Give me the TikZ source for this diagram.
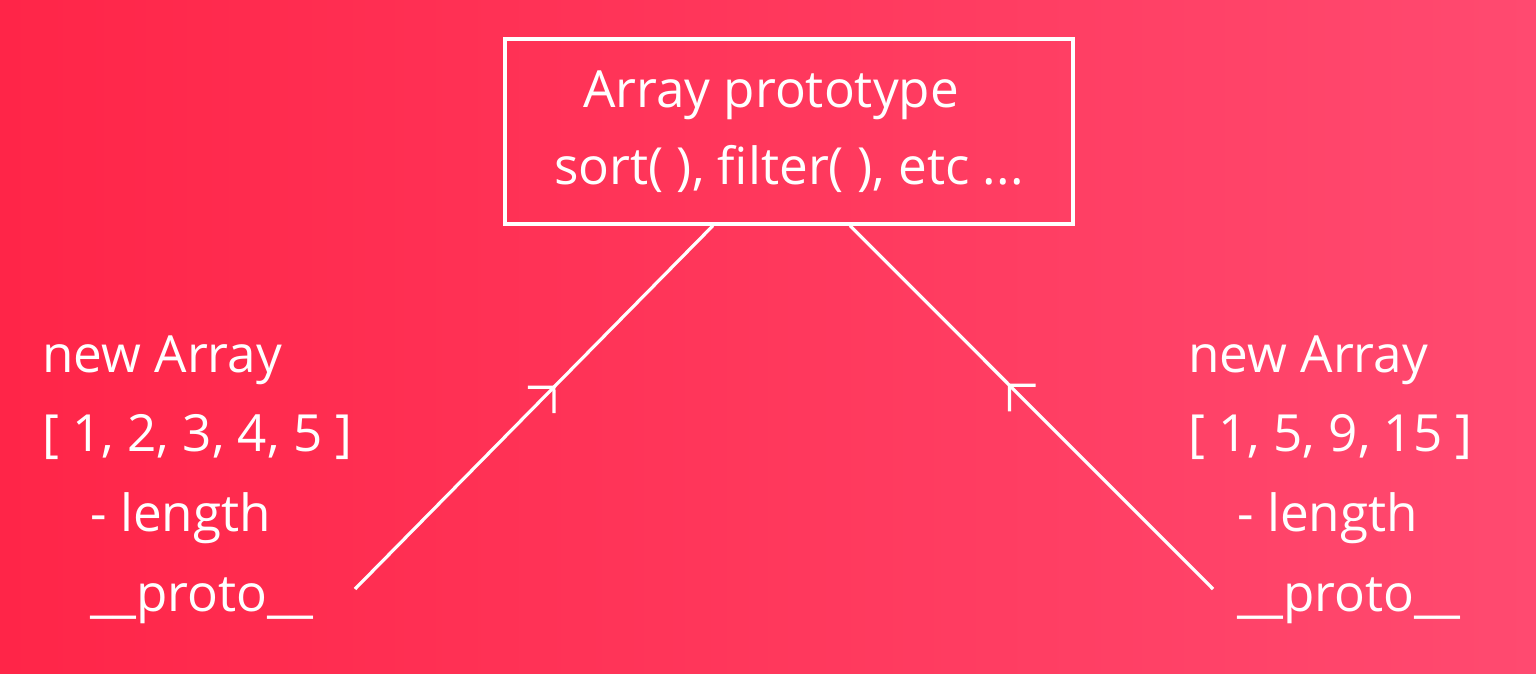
\documentclass[tikz,border=0pt]{standalone}
\usepackage{fontspec}
\setmainfont{Open Sans}
\usetikzlibrary{arrows.meta,positioning,calc,decorations.markings}
\definecolor{bgleft}{HTML}{FF2548}
\definecolor{bgright}{HTML}{FF4A70}
\newcommand{\slidefont}{\fontsize{25.6pt}{38.5pt}\selectfont}
\tikzstyle{txt} = [text=white, font=\slidefont, inner sep=0pt,
    text height=26pt, text depth=8pt]
\tikzstyle{protobox} = [rectangle, draw=white, line width=1.6pt, text=white,
    font=\slidefont, align=center, minimum width=284pt, minimum height=92.5pt]
\tikzstyle{link} = [draw=white, line width=1.6pt, postaction={decorate},
    decoration={markings, mark=at position #1 with
      {\arrow[line cap=round]{Straight Barb[angle=90:13pt]}}}]

\begin{document}
\begin{tikzpicture}[x=0.5pt,y=-0.5pt,node distance=5.5pt]

  \shade[left color=bgleft, right color=bgright] (0,0) rectangle (1536,674);

  \node[protobox] (box) at (789,131.5) {Array prototype\kern18pt\\sort( ), filter( ), etc ...};

  \node[txt, anchor=base west] (lnew) at (42,372) {new Array};
  \node[txt, below=of lnew.south west, anchor=north west] (larr) {[ 1, 2, 3, 4, 5 ]};
  \node[txt, below=of larr.south west, anchor=north west, xshift=24pt] (llen) {- length};
  \node[txt, below=of llen.south west, anchor=north west] (lproto) {\_\_proto\_\_};

  \node[txt, anchor=base west] (rnew) at (1188,372) {new Array};
  \node[txt, below=of rnew.south west, anchor=north west] (rarr) {[ 1, 5, 9, 15 ]};
  \node[txt, below=of rarr.south west, anchor=north west, xshift=24.5pt] (rlen) {- length};
  \node[txt, below=of rlen.south west, anchor=north west] (rproto) {\_\_proto\_\_};

  \path[link=0.56] ($(lproto.north west)+(265,30)$) -- ($(box.south)+(-76,0)$);
  \path[link=0.565] ($(rproto.north west)+(-24,30)$) -- ($(box.south)+(61,0)$);
\end{tikzpicture}
\end{document}
